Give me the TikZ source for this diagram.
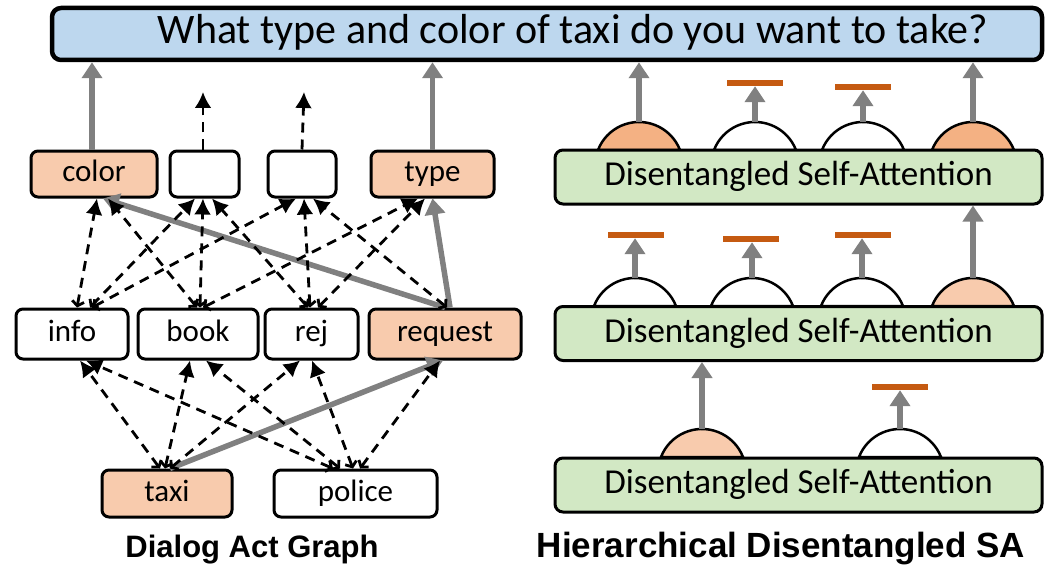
\documentclass[tikz,border=0pt]{standalone}
\usepackage{fontspec}
\setmainfont{Carlito}
\newfontfamily\titlefont{Liberation Sans}
\usetikzlibrary{arrows.meta,calc}
\definecolor{peach}{RGB}{248,203,173}
\definecolor{peachdark}{RGB}{244,177,131}
\definecolor{boxblue}{RGB}{189,215,238}
\definecolor{boxgreen}{RGB}{210,232,196}
\definecolor{barorange}{RGB}{197,90,17}
\definecolor{arrgray}{RGB}{128,128,128}
\begin{document}
\begin{tikzpicture}[x=1pt,y=1pt,
 box/.style={draw=black, line width=3pt, rounded corners=7pt, inner sep=0pt,
   font=\fontsize{31}{31}\selectfont, text height=22pt, text depth=7pt},
 act/.style={box, fill=white},
 hot/.style={box, fill=peach},
 dsa/.style={draw=black, line width=3pt, rounded corners=8pt, fill=boxgreen,
   minimum width=487pt, minimum height=54pt, inner sep=0pt,
   font=\fontsize{35}{35}\selectfont, text height=25pt, text depth=8pt},
 dedge/.style={draw=black, line width=2.8pt, dash pattern=on 10pt off 7pt,
   {Straight Barb[length=4.5pt,width=12pt]}-{Latex[length=16pt,width=17pt]}},
 upd/.style={draw=black, line width=2.8pt, dash pattern=on 10pt off 7pt,
   -{Latex[length=16pt,width=17pt]}},
 gedge/.style={draw=arrgray, line width=5.5pt, -{Triangle[length=16pt,width=20pt]}},
 stopbar/.style={fill=barorange, minimum width=56pt, minimum height=6pt, inner sep=0pt},
 domeline/.style={draw=black, line width=2.5pt},
 titletext/.style={font=\titlefont\bfseries\fontsize{31}{31}\selectfont, anchor=base},
]
\useasboundingbox (0,0) rectangle (1049,-567);

% question box
\node[draw=black, line width=4.5pt, rounded corners=9pt, fill=boxblue,
  minimum width=990pt, minimum height=52pt, inner sep=0pt,
  font=\fontsize{42}{42}\selectfont, text height=29pt, text depth=9pt]
  (q) at (547,-34) {\hspace*{52pt}What type and color of taxi do you want to take?};

% ---------------- Dialog act graph ----------------
\node[hot, minimum width=126pt, minimum height=46pt] (color) at (94,-174) {color};
\node[act, minimum width=69pt, minimum height=46pt] (b1) at (204.5,-174) {};
\node[act, minimum width=68pt, minimum height=46pt] (b2) at (302,-174) {};
\node[hot, minimum width=123pt, minimum height=46pt] (type) at (432.5,-174) {type};

\node[act, minimum width=112pt, minimum height=50pt] (info) at (72,-334) {info};
\node[act, minimum width=120pt, minimum height=50pt] (book) at (198,-334) {book};
\node[act, minimum width=93pt, minimum height=50pt] (rej) at (311.5,-334) {rej};
\node[hot, minimum width=152pt, minimum height=50pt] (request) at (445,-334) {request};

\node[hot, minimum width=130pt, minimum height=47pt] (taxi) at (167,-493.5) {taxi};
\node[act, minimum width=163pt, minimum height=47pt] (police) at (355.5,-493.5) {police};

\coordinate (b1t) at (203,-92);
\coordinate (b2t) at (304,-92);

% upward arrows to the question
\draw[gedge] ([xshift=-2pt]color.north) -- ([xshift=-2pt]color.north |- q.south);
\draw[gedge] (type.north) -- (type.north |- q.south);
\draw[upd] ([xshift=-1.5pt]b1.north) -- (b1t);
\draw[upd] (b2.north) -- (b2t);

% act -> slot layer
\draw[gedge] (request.north) -- ([xshift=9pt]color.south);
\draw[gedge] ([xshift=5pt]request.north) -- (type.south);
\draw[dedge] ([xshift=5pt]info.north) -- ([xshift=3pt]color.south);
\draw[dedge] ([xshift=-1pt]book.north) -- ([xshift=14pt]color.south);
\draw[dedge] ([xshift=18pt]info.north) -- ([xshift=-9.5pt]b1.south);
\draw[dedge] ([xshift=2pt]book.north) -- ([xshift=-1.5pt]b1.south);
\draw[dedge] ([xshift=-3.5pt]rej.north) -- ([xshift=7.5pt]b1.south);
\draw[dedge] ([xshift=20pt]info.north) -- ([xshift=-6pt]b2.south);
\draw[dedge] ([xshift=-1.5pt]rej.north) -- ([xshift=2pt]b2.south);
\draw[dedge] ([xshift=2pt]request.north) -- ([xshift=11pt]b2.south);
\draw[dedge] ([xshift=5pt]book.north) -- ([xshift=-14.5pt]type.south);
\draw[dedge] ([xshift=6.5pt]rej.north) -- ([xshift=-7.5pt]type.south);

% domain -> act layer
\draw[gedge] ([xshift=3pt]taxi.north) -- ([xshift=-2pt]request.south);
\draw[dedge] ([xshift=-7pt]taxi.north) -- ([xshift=8pt]info.south);
\draw[dedge] ([xshift=-2pt]taxi.north) -- ([xshift=-8pt]book.south);
\draw[dedge] ([xshift=3pt]taxi.north) -- ([xshift=-11.5pt]rej.south);
\draw[dedge] ([xshift=-22.5pt]police.north) -- ([xshift=14pt]info.south);
\draw[dedge] ([xshift=-15.5pt]police.north) -- ([xshift=8pt]book.south);
\draw[dedge] ([xshift=-2.5pt]police.north) -- ([xshift=0.5pt]rej.south);
\draw[dedge] ([xshift=4.5pt]police.north) -- ([xshift=-5pt]request.south);

\node[titletext] (t1) at (252,-557) {Dialog Act Graph};

% ---------------- Hierarchical disentangled SA ----------------
\foreach \cx/\by/\fc/\nm in {639/-150/peachdark/d3a, 755/-150/white/d3b, 863/-150/white/d3c, 973/-150/peachdark/d3d,
                            635/-306/white/d2a, 752/-306/white/d2b, 862/-306/white/d2c, 973/-306/peach/d2d,
                            702/-457/peach/d1a, 900/-457/white/d1b}{
  \filldraw[domeline, fill=\fc] (\cx-41,\by) arc[start angle=158.7, end angle=21.3, radius=44] -- cycle;
  \coordinate (\nm) at (\cx,\by+28);
}

\node[dsa] (s3) at (798.5,-177) {Disentangled Self-Attention};
\node[dsa] (s2) at (798.5,-333.5) {Disentangled Self-Attention};
\node[dsa] (s1) at (798.5,-485) {Disentangled Self-Attention};

\node[stopbar] (k3b) at (754.5,-83) {};
\node[stopbar] (k3c) at (863,-87) {};
\node[stopbar] (k2a) at (636,-235) {};
\node[stopbar] (k2b) at (751,-239) {};
\node[stopbar] (k2c) at (863,-235) {};
\node[stopbar] (k1b) at (899.5,-387) {};

\draw[gedge] (d3a) -- (d3a |- q.south);
\draw[gedge] (d3d) -- (d3d |- q.south);
\draw[gedge] (d3b) -- (d3b |- k3b.south);
\draw[gedge] (d3c) -- (d3c |- k3c.south);
\draw[gedge] (d2a) -- (d2a |- k2a.south);
\draw[gedge] (d2b) -- (d2b |- k2b.south);
\draw[gedge] (d2c) -- (d2c |- k2c.south);
\draw[gedge] (d2d) -- (d2d |- s3.south);
\draw[gedge] (d1a) -- (d1a |- s2.south);
\draw[gedge] (d1b) -- (d1b |- k1b.south);

\node[titletext, font=\titlefont\bfseries\fontsize{35}{35}\selectfont] (t2) at (781,-557) {Hierarchical Disentangled SA};
\end{tikzpicture}
\end{document}
